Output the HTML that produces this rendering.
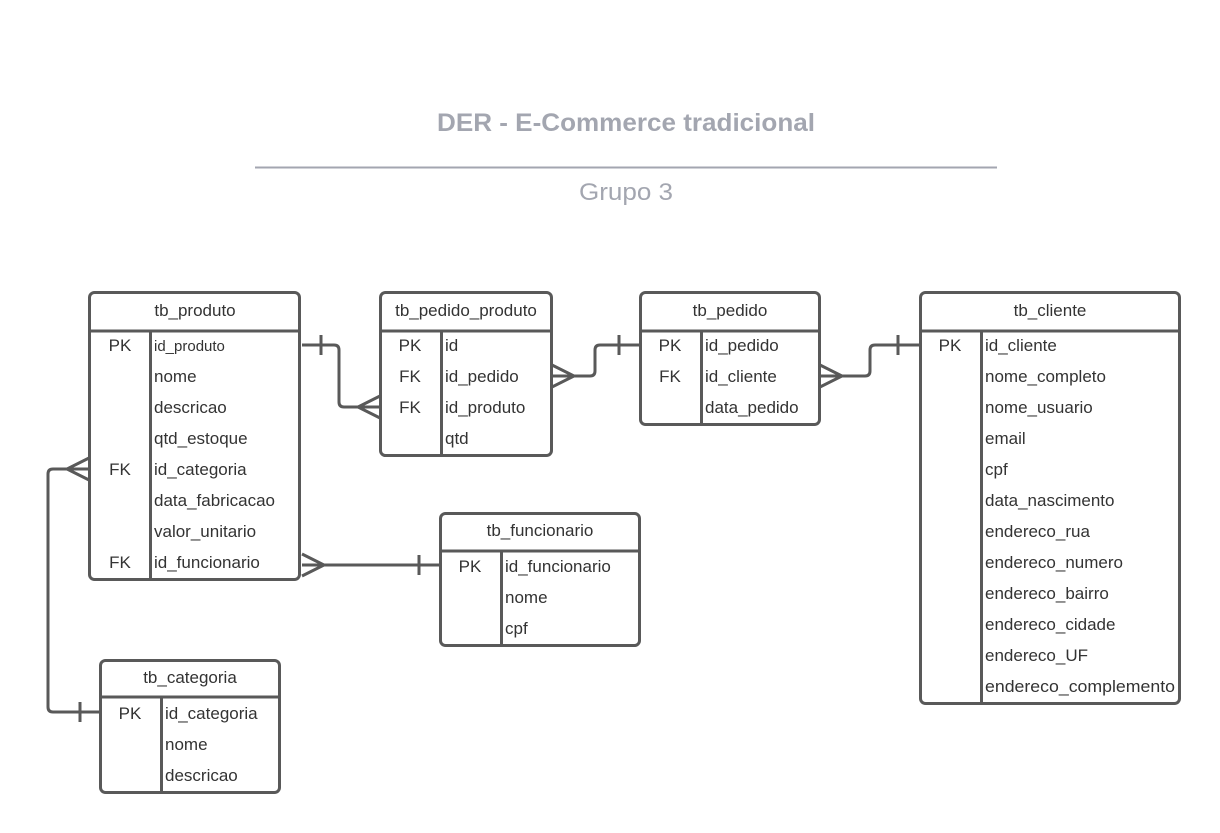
<!DOCTYPE html>
<html><head><meta charset="utf-8"><style>
html,body{margin:0;padding:0;background:#fff;}
svg{display:block;}
text{font-family:"Liberation Sans",Arial,sans-serif;fill:#333;}
</style></head><body>
<svg width="1220" height="833" viewBox="0 0 1220 833" xmlns="http://www.w3.org/2000/svg">
<rect width="1220" height="833" fill="#fff"/>
<text x="626" y="131" text-anchor="middle" font-size="25" font-weight="bold" style="fill:#a3a6b0" textLength="378" lengthAdjust="spacingAndGlyphs">DER - E-Commerce tradicional</text>
<line x1="255" y1="167.5" x2="997" y2="167.5" stroke="#a3a6b0" stroke-width="2"/>
<text x="626" y="200" text-anchor="middle" font-size="24" style="fill:#a3a6b0" textLength="94" lengthAdjust="spacingAndGlyphs">Grupo 3</text>

<g fill="none" stroke="#595959" stroke-width="3">
<!-- tables -->
<rect x="89.5" y="292.5" width="210" height="287" rx="5"/>
<line x1="89.5" y1="331" x2="299.5" y2="331"/><line x1="150.5" y1="331" x2="150.5" y2="579"/>
<rect x="380.5" y="292.5" width="171" height="163" rx="5"/>
<line x1="380.5" y1="331" x2="551.5" y2="331"/><line x1="441.5" y1="331" x2="441.5" y2="455"/>
<rect x="640.5" y="292.5" width="179" height="132" rx="5"/>
<line x1="640.5" y1="331" x2="819.5" y2="331"/><line x1="701.5" y1="331" x2="701.5" y2="424"/>
<rect x="920.5" y="292.5" width="259" height="411" rx="5"/>
<line x1="920.5" y1="331" x2="1179.5" y2="331"/><line x1="981.5" y1="331" x2="981.5" y2="703"/>
<rect x="440.5" y="513.5" width="199" height="132" rx="5"/>
<line x1="440.5" y1="551" x2="639.5" y2="551"/><line x1="501.5" y1="551" x2="501.5" y2="645"/>
<rect x="100.5" y="660.5" width="179" height="132" rx="5"/>
<line x1="100.5" y1="697" x2="279.5" y2="697"/><line x1="161.5" y1="697" x2="161.5" y2="792"/>

<!-- connectors -->
<path d="M302 345 H334 Q339 345 339 350 V402 Q339 407 344 407 H380"/>
<line x1="321" y1="335" x2="321" y2="355"/>
<path d="M380 396 L358 407 L380 418"/>

<path d="M552 376 H590 Q595 376 595 371 V350 Q595 345 600 345 H640"/>
<path d="M552 365 L574 376 L552 387"/>
<line x1="619" y1="335" x2="619" y2="355"/>

<path d="M820 376 H865 Q870 376 870 371 V350 Q870 345 875 345 H920"/>
<path d="M820 365 L842 376 L820 387"/>
<line x1="898" y1="335" x2="898" y2="355"/>

<path d="M302 565 H440"/>
<path d="M302 554 L324 565 L302 576"/>
<line x1="419" y1="555" x2="419" y2="575"/>

<path d="M89 469 H53 Q48 469 48 474 V707 Q48 712 53 712 H100"/>
<path d="M89 458 L67 469 L89 480"/>
<line x1="80" y1="702" x2="80" y2="722"/>
</g>

<g font-size="17">
<text x="195" y="316" text-anchor="middle">tb_produto</text>
<text x="120" y="351" text-anchor="middle">PK</text><text x="154" y="351" font-size="15">id_produto</text>
<text x="154" y="382">nome</text>
<text x="154" y="413">descricao</text>
<text x="154" y="444">qtd_estoque</text>
<text x="120" y="475" text-anchor="middle">FK</text><text x="154" y="475">id_categoria</text>
<text x="154" y="506">data_fabricacao</text>
<text x="154" y="537">valor_unitario</text>
<text x="120" y="568" text-anchor="middle">FK</text><text x="154" y="568">id_funcionario</text>

<text x="466" y="316" text-anchor="middle">tb_pedido_produto</text>
<text x="410" y="351" text-anchor="middle">PK</text><text x="445" y="351">id</text>
<text x="410" y="382" text-anchor="middle">FK</text><text x="445" y="382">id_pedido</text>
<text x="410" y="413" text-anchor="middle">FK</text><text x="445" y="413">id_produto</text>
<text x="445" y="444">qtd</text>

<text x="730" y="316" text-anchor="middle">tb_pedido</text>
<text x="670" y="351" text-anchor="middle">PK</text><text x="705" y="351">id_pedido</text>
<text x="670" y="382" text-anchor="middle">FK</text><text x="705" y="382">id_cliente</text>
<text x="705" y="413">data_pedido</text>

<text x="1050" y="316" text-anchor="middle">tb_cliente</text>
<text x="950" y="351" text-anchor="middle">PK</text><text x="985" y="351">id_cliente</text>
<text x="985" y="382">nome_completo</text>
<text x="985" y="413">nome_usuario</text>
<text x="985" y="444">email</text>
<text x="985" y="475">cpf</text>
<text x="985" y="506">data_nascimento</text>
<text x="985" y="537">endereco_rua</text>
<text x="985" y="568">endereco_numero</text>
<text x="985" y="599">endereco_bairro</text>
<text x="985" y="630">endereco_cidade</text>
<text x="985" y="661">endereco_UF</text>
<text x="985" y="692" textLength="190" lengthAdjust="spacingAndGlyphs">endereco_complemento</text>

<text x="540" y="536" text-anchor="middle">tb_funcionario</text>
<text x="470" y="572" text-anchor="middle">PK</text><text x="505" y="572">id_funcionario</text>
<text x="505" y="603">nome</text>
<text x="505" y="634">cpf</text>

<text x="190" y="683" text-anchor="middle">tb_categoria</text>
<text x="130" y="719" text-anchor="middle">PK</text><text x="165" y="719">id_categoria</text>
<text x="165" y="750">nome</text>
<text x="165" y="781">descricao</text>
</g>
</svg>
</body></html>
